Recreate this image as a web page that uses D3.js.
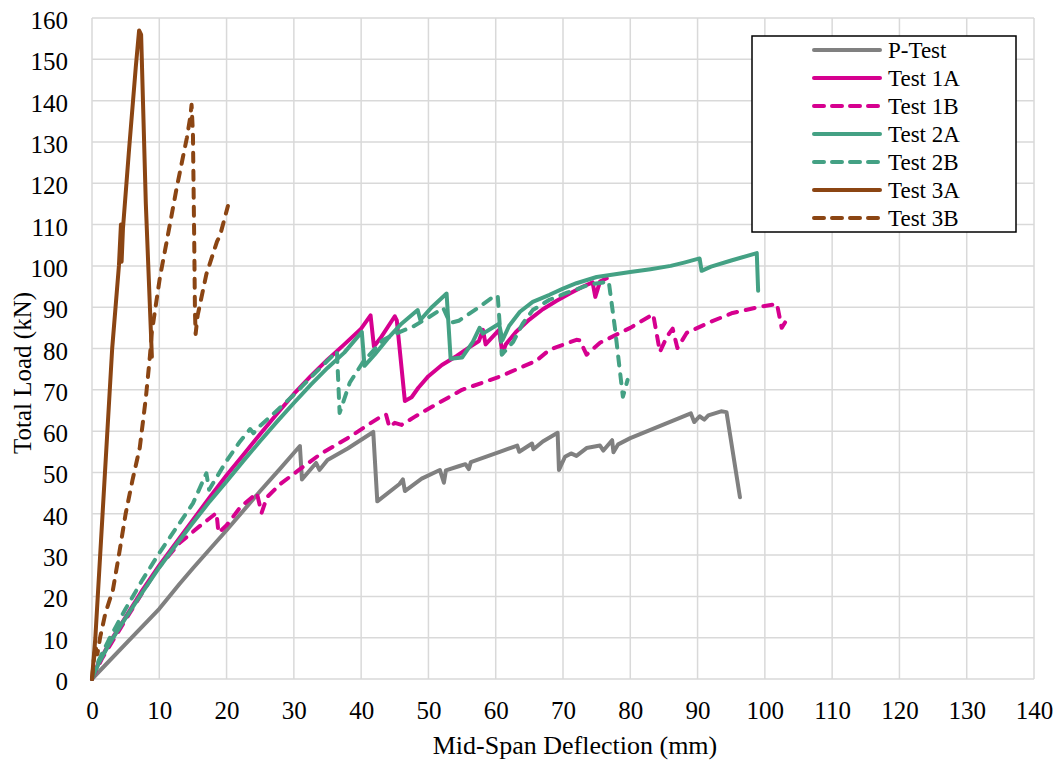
<!DOCTYPE html>
<html>
<head>
<meta charset="utf-8">
<script src="https://cdn.jsdelivr.net/npm/d3@7"></script>
<style>
  body { margin: 0; background: #fff; }
  svg { display: block; font-family: "Liberation Serif", "Times New Roman", serif; }
</style>
</head>
<body>
<svg id="chart"></svg>
<script>
// load-deflection data, [deflection mm, load kN]
const pTest = [[0,0],[5,8.5],[10,17],[13,23],[15,26.8],[20,36],[25,45.5],[28,51],[30.9,56.4],[31.2,48.3],[33.3,52.3],[33.8,50.6],[35,53],[38,55.8],[41.8,59.8],[42.4,43],[45.7,47.2],[46.2,48.3],[46.5,45.5],[49,48.5],[51.7,50.6],[52.3,47.5],[52.6,50.5],[54.5,51.5],[55.5,52],[56,50.8],[56.3,52.5],[60.6,55],[63.2,56.5],[63.5,55],[65.4,57],[65.6,55.6],[67,57.5],[69.2,59.6],[69.4,50.6],[70.3,53.8],[71.2,54.6],[72,54],[73.5,55.9],[75.5,56.5],[76,55.3],[77.3,57.8],[77.5,54.9],[78.2,56.8],[80,58.3],[83,60.3],[86,62.3],[89,64.3],[89.5,62.2],[90.3,63.6],[91,62.8],[91.6,63.8],[93.5,64.8],[94.3,64.6],[96.3,44]];
const test1A = [[0,0],[1,4],[2.5,8.5],[5,15],[7.5,21.5],[10,27.5],[12.5,33],[15,38.5],[17.5,44],[20,49.3],[22.5,54.3],[25,59.3],[27.5,64.2],[30,69],[32.5,73.3],[35,77.3],[37.5,81],[40,84.8],[41.4,88],[41.9,80.5],[43,82.8],[45,87.8],[45.3,86.8],[46.5,67.3],[47.5,68.2],[48.5,70.5],[50,73.3],[52,76],[54.2,78.2],[56,80.2],[57.5,81.8],[58.1,84.5],[58.5,81],[60.5,84.5],[61,78.8],[61.5,81],[63,84],[65,87],[67,89.5],[69,91.5],[71,93.3],[73,95],[74.4,96],[74.8,92.5],[75.5,96.2],[76.5,97]];
const test1B = [[0,0],[1.5,5],[3,9],[6,17],[9.6,26.4],[13,32.9],[16,37],[18.5,40.2],[18.8,35.4],[20,37.2],[22,41.5],[24.5,45],[25.2,40.2],[26,44],[28,47.2],[30.9,50.8],[34,54.5],[38.3,58.6],[41,61.5],[43.2,63.8],[43.7,64],[44.2,61],[45,62],[46,61.5],[48,63.5],[50.2,65.6],[55,70],[60.6,73.2],[66,77],[68,79.7],[72,82.1],[72.5,82],[73.5,78.5],[75.5,81.4],[80,85],[83.4,88.3],[84.4,79.2],[85.5,83],[86.3,84.8],[87,80.1],[88.4,83.8],[92,86.5],[95.2,88.6],[99,90],[101.8,90.8],[102.5,85],[103,86.3]];
const test2A = [[0,0],[1,3.8],[2.5,8.3],[5,14.8],[7.5,21],[10,27],[12.5,32.5],[15,37.8],[17.5,43],[20,47.8],[22.5,52.8],[25,57.6],[27.5,62.3],[30,66.8],[32.5,71.2],[35,75.3],[37.5,79],[40.1,84],[40.5,75.8],[42,78.5],[44,82.5],[46,86],[48.4,89.3],[48.8,86.9],[50.5,90],[52.7,93.3],[53.3,77.5],[55,77.8],[56.6,81.6],[57.6,85],[58.1,83.6],[60.5,86],[61,82],[62,85.5],[63.6,88.9],[65.5,91.3],[68,93],[70,94.5],[72,95.8],[75,97.3],[77,97.8],[80,98.5],[83,99.2],[86,100],[88,100.8],[90.3,101.8],[90.6,98.8],[92,99.8],[95,101.3],[98.8,103.1],[99,94]];
const test2B = [[0,0],[1,4.5],[2.5,9.5],[5,17],[7.5,24],[10,30.5],[12.5,36.5],[15,42.5],[17,49.8],[17.4,45.8],[20,52.8],[22,57.5],[23.5,60.5],[24,59.5],[25,61.3],[27.5,65],[30,68.8],[33,73.8],[36.4,79.3],[36.8,64.4],[38.3,71.7],[40.3,76.8],[43.2,82],[45,83.5],[47.7,85.3],[50,87.5],[52.2,89.8],[53.2,86.2],[54.5,86.7],[57.6,90.1],[59.6,92.5],[60.3,92.8],[60.9,78.5],[62.6,81.6],[64,86],[65.5,89.3],[68,91.8],[70.6,93.5],[74,95.5],[76.8,96.2],[77.7,85.2],[78.9,68.3],[79.6,72.4]];
const test3A = [[0,0],[0.5,10],[1.5,38],[3,80],[4,100],[4.3,110],[4.4,101],[4.6,109],[5.5,128],[6.5,148],[7,157],[7.3,156],[8,115],[8.9,78]];
const test3B = [[0,0],[0.3,5],[0.5,8],[0.8,6],[1.2,10],[2,16],[3.1,21.5],[4,30],[5,40],[6,48],[7.1,56],[8,68],[8.6,78],[8.9,84],[10.1,97.3],[11,105],[12.6,119],[14.1,131],[14.6,136],[14.8,139],[15,132],[15.2,105],[15.3,89],[15.4,83.5],[15.7,88],[17,98],[18.6,106],[19,107.2],[20.2,114.5]];

const seriesNames = ['P-Test', 'Test 1A', 'Test 1B', 'Test 2A', 'Test 2B', 'Test 3A', 'Test 3B'];
const seriesData = [pTest, test1A, test1B, test2A, test2B, test3A, test3B];
const seriesColors = ['#808080', '#d6008f', '#d6008f', '#44a184', '#44a184', '#8b4513', '#8b4513'];
const seriesDashed = [false, false, true, false, true, false, true];

const xTicks = d3.range(0, 141, 10);
const yTicks = d3.range(0, 161, 10);

const width = 1060, height = 760;
const margin = {top: 18, right: 26, bottom: 81, left: 92};
const innerW = width - margin.left - margin.right;
const innerH = height - margin.top - margin.bottom;

const svg = d3.select('#chart')
    .attr('width', width)
    .attr('height', height);

const chart = svg.append('g')
    .attr('transform', `translate(${margin.left}, ${margin.top})`);

const xscale = d3.scaleLinear().domain([0, 140]).range([0, innerW]);
const yscale = d3.scaleLinear().domain([0, 160]).range([innerH, 0]);

// grid
chart.append('g')
    .selectAll('line')
    .data(xTicks)
    .join('line')
    .attr('x1', d => xscale(d)).attr('x2', d => xscale(d))
    .attr('y1', 0).attr('y2', innerH)
    .attr('stroke', '#d9d9d9').attr('stroke-width', 1.5);

chart.append('g')
    .selectAll('line')
    .data(yTicks)
    .join('line')
    .attr('x1', 0).attr('x2', innerW)
    .attr('y1', d => yscale(d)).attr('y2', d => yscale(d))
    .attr('stroke', '#d9d9d9').attr('stroke-width', 1.5);

// axes (labels only, grid draws the lines)
const xaxis = d3.axisBottom(xscale).tickValues(xTicks).tickSize(0);
const yaxis = d3.axisLeft(yscale).tickValues(yTicks).tickSize(0).tickPadding(24);

const xg = chart.append('g')
    .attr('transform', `translate(0, ${innerH})`)
    .call(xaxis);
const yg = chart.append('g').call(yaxis);

[xg, yg].forEach(g => {
    g.select('.domain').remove();
    g.selectAll('text')
        .attr('font-family', '"Liberation Serif", "Times New Roman", serif')
        .attr('font-size', 25)
        .attr('fill', '#000');
});
xg.selectAll('text').attr('y', 40).attr('dy', null);
yg.selectAll('text').attr('dy', '0.42em');

svg.append('text')
    .attr('x', 575)
    .attr('y', 754)
    .attr('text-anchor', 'middle')
    .attr('font-size', 26)
    .text('Mid-Span Deflection (mm)');

svg.append('text')
    .attr('transform', 'rotate(-90)')
    .attr('x', -373)
    .attr('y', 31)
    .attr('text-anchor', 'middle')
    .attr('font-size', 25)
    .text('Total Load (kN)');

// series
const line = d3.line()
    .x(d => xscale(d[0]))
    .y(d => yscale(d[1]));

seriesData.forEach((data, i) => {
    chart.append('path')
        .attr('d', line(data))
        .attr('fill', 'none')
        .attr('stroke', seriesColors[i])
        .attr('stroke-width', 4)
        .attr('stroke-linejoin', 'round')
        .attr('stroke-linecap', 'round')
        .attr('stroke-dasharray', seriesDashed[i] ? '9,9' : null);
});

// legend
const legend = svg.append('g');
legend.append('rect')
    .attr('x', 752).attr('y', 36)
    .attr('width', 264).attr('height', 196)
    .attr('fill', '#fff')
    .attr('stroke', '#000')
    .attr('stroke-width', 1.5);

seriesNames.forEach((name, i) => {
    const y = 50 + i * 28;
    legend.append('line')
        .attr('x1', 814).attr('x2', 880)
        .attr('y1', y).attr('y2', y)
        .attr('stroke', seriesColors[i])
        .attr('stroke-width', 4)
        .attr('stroke-linecap', 'round')
        .attr('stroke-dasharray', seriesDashed[i] ? '10,8' : null);
    legend.append('text')
        .attr('x', 888).attr('y', y + 8)
        .attr('font-size', 23)
        .text(name);
});
</script>
</body>
</html>
